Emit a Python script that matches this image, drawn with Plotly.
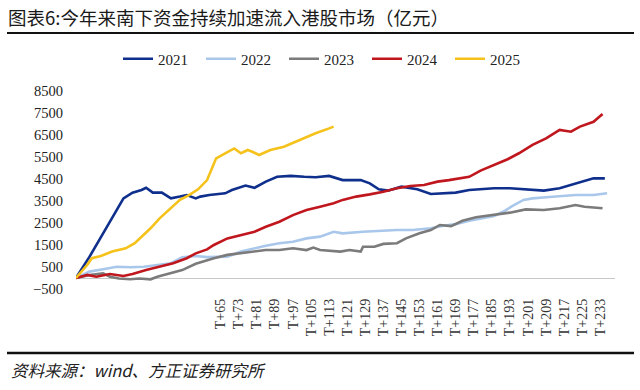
import plotly.graph_objects as go

# ---- data (亿元), x = trading day index T+n ----
d2021 = [1,7,13,18,22,26,30,32,35,39,43,47,50,54,56,60,62,67,70,76,80,85,90,96,102,107,113,116,119,127,131,135,139,145,152,158,163,169,175,186,193,200,208,215,222,230,235]
v2021 = [0,970,2030,2940,3620,3880,4000,4100,3880,3880,3620,3700,3770,3620,3700,3770,3800,3850,4000,4200,4100,4380,4600,4640,4600,4580,4640,4530,4450,4450,4300,4030,3970,4150,4030,3820,3850,3880,4000,4080,4080,4030,3970,4080,4300,4530,4530]

d2022 = [1,7,13,19,25,31,37,43,48,54,59,68,74,80,85,91,97,103,109,115,119,128,135,143,150,158,163,169,175,186,190,194,199,203,209,215,222,230,236]
v2022 = [0,290,400,510,490,510,590,670,940,1000,950,970,1200,1350,1470,1580,1650,1800,1880,2100,2030,2100,2140,2180,2180,2260,2360,2450,2600,2820,3010,3270,3550,3620,3670,3730,3770,3770,3850]

d2023 = [1,7,13,16,20,25,29,34,37,43,48,54,59,62,68,74,80,85,91,97,103,106,109,115,118,122,127,128,133,137,143,147,153,158,162,167,172,178,186,193,200,208,215,222,226,230,234]
v2023 = [0,140,210,60,-20,-60,-20,-60,60,210,360,650,820,900,1050,1120,1200,1270,1270,1350,1270,1380,1270,1230,1200,1270,1200,1420,1420,1550,1580,1800,2030,2180,2410,2360,2600,2760,2860,2970,3120,3090,3170,3320,3240,3210,3170]

d2024 = [1,6,10,16,22,26,32,38,44,50,54,59,62,68,74,80,85,91,97,103,109,115,119,125,131,137,143,149,155,161,166,172,175,180,186,192,197,203,209,215,220,224,230,234]
v2024 = [0,140,60,180,90,180,360,510,670,900,1120,1300,1500,1800,1950,2100,2330,2560,2860,3090,3240,3400,3550,3700,3800,3920,4080,4180,4230,4380,4450,4530,4600,4880,5140,5400,5670,6050,6350,6730,6650,6880,7100,7450]

d2025 = [1,6,8,12,17,23,27,30,34,38,43,47,51,55,59,62,63,67,71,74,77,79,82,87,93,100,107,113,115]
v2025 = [0,600,900,1000,1200,1350,1580,1880,2260,2710,3170,3550,3770,4030,4450,5140,5440,5670,5890,5670,5820,5740,5590,5820,5970,6270,6580,6800,6880]

series_names = ["2021", "2022", "2023", "2024", "2025"]
x_tick_days = list(range(65, 234, 8))
x_tick_labels = ["T+%d" % d for d in x_tick_days]
y_ticks = list(range(-500, 8501, 1000))

title_text = "图表6:今年来南下资金持续加速流入港股市场（亿元）"
source_text = "资料来源：wind、方正证券研究所"

# ---- figure ----
colors = ["#0f2f8c", "#a9c7ea", "#7b7b7b", "#c0161d", "#f5c21b"]
xs = [d2021, d2022, d2023, d2024, d2025]
ys = [v2021, v2022, v2023, v2024, v2025]

fig = go.Figure()
for name, x, y, c in zip(series_names, xs, ys, colors):
    fig.add_trace(go.Scatter(x=x, y=y, name=name, mode="lines",
                             line=dict(color=c, width=2.6)))

W, H = 640, 390
L, R, T, B = 76, 25, 91, 101
pw, ph = W - L - R, H - T - B

def px_to_paper_x(px):
    return (px - L) / pw

def py_to_paper_y(py):
    return (H - B - py) / ph

serif = "Liberation Serif, Times New Roman, serif"
cjk = "Noto Sans CJK SC, sans-serif"

fig.update_layout(
    width=W, height=H,
    margin=dict(l=L, r=R, t=T, b=B),
    paper_bgcolor="white", plot_bgcolor="white",
    showlegend=True,
    legend=dict(orientation="h", x=px_to_paper_x(118), xanchor="left",
                y=py_to_paper_y(59), yanchor="middle",
                font=dict(family=serif, size=15, color="#222"),
                entrywidth=38, entrywidthmode="pixels",
                bgcolor="rgba(0,0,0,0)", itemwidth=30),
    title=dict(text=title_text, x=8 / W, xanchor="left", y=1 - 19 / H,
               yanchor="middle", font=dict(family=cjk, size=18.5, color="#1a1a1a")),
    xaxis=dict(range=[1, 239.5], tickmode="array", tickvals=x_tick_days,
               ticktext=x_tick_labels, tickangle=-90, showgrid=False,
               zeroline=False, showline=False, ticks="",
               tickfont=dict(family=serif, size=14, color="#333"),
               ticklabelstandoff=6),
    yaxis=dict(range=[-500, 8500], tickmode="array", tickvals=y_ticks,
               showgrid=False, zeroline=True, zerolinecolor="#c8c8c8",
               zerolinewidth=1, showline=False, ticks="",
               tickfont=dict(family=serif, size=14.5, color="#222"),
               ticklabelstandoff=12),
)

fig.add_shape(type="line", xref="paper", yref="paper",
              x0=px_to_paper_x(7), x1=px_to_paper_x(634),
              y0=py_to_paper_y(33), y1=py_to_paper_y(33),
              line=dict(color="#111", width=2))
fig.add_shape(type="line", xref="paper", yref="paper",
              x0=px_to_paper_x(7), x1=px_to_paper_x(634),
              y0=py_to_paper_y(353), y1=py_to_paper_y(353),
              line=dict(color="#111", width=2.5))
fig.add_annotation(text="<i>" + source_text + "</i>", xref="paper", yref="paper",
                   x=px_to_paper_x(9), y=py_to_paper_y(370), xanchor="left",
                   yanchor="middle", showarrow=False,
                   font=dict(family=cjk, size=16.5, color="#222"))

fig.write_html("out.html", config={"displayModeBar": False},
               post_script="document.body.style.margin='0px';")
